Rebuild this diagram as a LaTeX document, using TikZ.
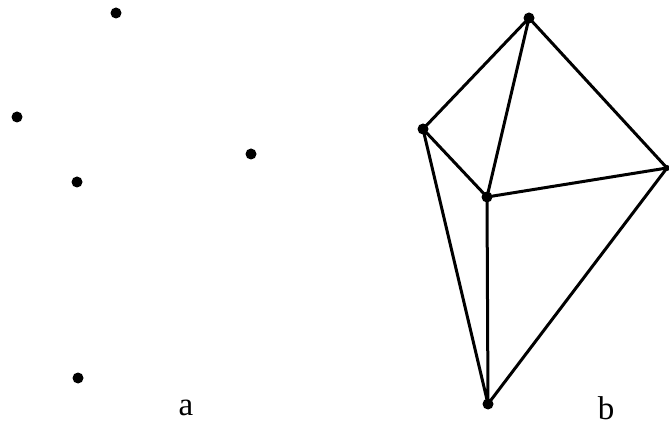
\documentclass[tikz,border=0pt]{standalone}
\usepackage{fontspec}
\setmainfont{Liberation Serif}
\begin{document}
\begin{tikzpicture}[x=1pt,y=-1pt,
  pt/.style={circle,fill=black,inner sep=0pt,minimum size=11pt},
  edge/.style={line width=3pt,line cap=round,line join=round},
  lbl/.style={font=\fontsize{33}{33}\selectfont,inner sep=0pt}]
\useasboundingbox (0,0) rectangle (669,427);
% part a
\node[pt] (a1) at (116,13) {};
\node[pt] (a2) at (17,117) {};
\node[pt] (a3) at (251,154) {};
\node[pt] (a4) at (77,182) {};
\node[pt] (a5) at (78,378) {};
\node[lbl] (la) at (186,408) {a};
% part b
\node[pt] (b1) at (529,18) {};
\node[pt] (b2) at (423,129) {};
\node[pt] (b3) at (487,197) {};
\node[pt,minimum size=6pt] (b4) at (667,168) {};
\node[pt] (b5) at (488,404) {};
\node[lbl] (lb) at (606,408) {b};
\draw[edge] (b1.center) -- (b2.center) -- (b5.center) -- (b4.center) -- (b1.center) -- (b3.center) -- (b5.center);
\draw[edge] (b2.center) -- (b3.center) -- (b4.center);
\end{tikzpicture}
\end{document}
